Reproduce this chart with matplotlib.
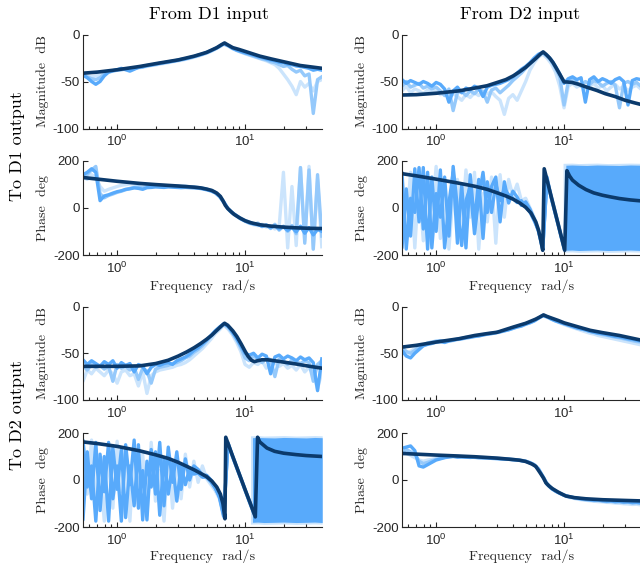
import matplotlib
matplotlib.use("Agg")
import matplotlib.pyplot as plt
from matplotlib.ticker import LogLocator, NullFormatter, FixedLocator

plt.rcParams['font.family'] = ['Liberation Sans', 'DejaVu Sans']
plt.rcParams['axes.unicode_minus'] = False

# ---------------- measured (noisy) frequency grid ----------------
freq_meas = [0.500, 0.540, 0.583, 0.630, 0.680, 0.734, 0.792, 0.856, 0.924, 0.998,
             1.077, 1.163, 1.256, 1.356, 1.464, 1.581, 1.707, 1.843, 1.991, 2.149,
             2.321, 2.506, 2.706, 2.922, 3.155, 3.407, 3.679, 3.972, 4.289, 4.631,
             5.000, 5.399, 5.830, 6.295, 6.797, 7.339, 7.925, 8.557, 9.240, 9.977,
             10.77, 11.63, 12.56, 13.56, 14.64, 15.81, 17.07, 18.43, 19.91, 21.49,
             23.21, 25.06, 27.06, 29.22, 31.55, 34.07, 36.79, 39.72]

# ---------------- D1 -> D1 ----------------
mag11_a = [-41, -43, -46, -50, -53, -50, -44, -40, -38.5, -37.5,
           -36, -37.5, -39, -37, -35, -34.5, -33, -32.5, -31.5, -30.5,
           -30, -29, -28.5, -27.5, -26.5, -25.8, -24.5, -23.5, -22, -20.8,
           -19, -17.2, -15, -12.5, -9.8, -11.5, -14.5, -16.5, -18, -19.5,
           -20.5, -22, -23.5, -24.5, -26, -27, -28, -29.5, -30, -31.5,
           -32, -33.5, -34, -35, -36, -38, -37, -38]
mag11_b = [-42, -44, -45, -47, -48, -46, -42, -40, -39, -38,
           -37.5, -36.5, -37, -36, -35, -34, -33.5, -32.5, -31.8, -31,
           -30, -29.5, -28.5, -27.8, -27, -25.8, -25, -23.5, -22.5, -21,
           -19.5, -17.5, -15.2, -12.8, -10, -11.8, -14.5, -16.8, -18.5, -20,
           -21.5, -23, -24.5, -26, -27, -29, -30, -32, -34, -33,
           -37, -40, -38, -44, -42, -84, -48, -45]
mag11_c = [-43, -42, -44, -45, -44, -43, -41, -39.5, -38.5, -38,
           -37.5, -37, -36.5, -36, -35.5, -34.8, -34, -33, -32.5, -31.5,
           -30.8, -30, -29, -28.3, -27.5, -26.5, -25.5, -24.2, -23, -21.5,
           -20, -18, -15.8, -13.3, -10.5, -12.3, -15, -17, -18.8, -20.5,
           -22, -23.5, -25, -26.5, -28, -30, -32, -36, -42, -48,
           -55, -64, -50, -56, -52, -60, -50, -48]
phase11_a = [130, 140, 150, 165, 150, 30, 50, 55, 62, 68,
             72, 78, 80, 84, 82, 78, 85, 86, 88, 87,
             86, 88, 87, 86, 85, 86, 85, 84, 83, 80,
             76, 71, 63, 48, 24, -4, -22, -34, -47, -56,
             -64, -68, -72, -78, -74, -84, -76, -90, -80, -96,
             -82, -102, -78, -108, -84, -115, -92, -100]
phase11_b = [118, 125, 140, 160, 175, 60, 42, 52, 58, 65,
             70, 76, 82, 86, 88, 84, 90, 92, 91, 93,
             92, 91, 93, 91, 90, 91, 89, 88, 86, 83,
             79, 74, 66, 50, 26, -3, -20, -33, -45, -54,
             -60, -70, -65, -80, -72, -88, -70, -95, -78, -100,
             -75, -110, 170, -150, 160, -175, 140, -120]
phase11_c = [110, 130, 120, 140, 130, 90, 70, 78, 84, 90,
             95, 98, 101, 100, 99, 98, 97, 96, 95, 95,
             94, 93, 93, 92, 91, 90, 89, 87, 85, 82,
             78, 72, 64, 47, 23, -6, -24, -36, -48, -58,
             -66, -72, -76, -70, -82, -76, -90, -80, 150, -170,
             90, -160, 170, -140, 175, -175, 120, -165]
freq_fit_mag11 = [0.5, 0.7, 1.0, 1.5, 2.0, 3.0, 4.0, 5.0, 6.0, 6.5, 6.9, 7.3, 8.0, 9.0, 10, 13, 16, 20, 27, 40]
mag11_fit = [-41.5, -40, -37.5, -34, -31, -27, -23, -19, -14, -11, -9, -11, -14, -16, -18, -23, -26, -29, -33, -36]
freq_fit_ph11 = [0.5, 1.0, 1.5, 2, 3, 4, 4.5, 5, 5.5, 6, 6.4, 6.7, 7.0, 7.3, 7.7, 8.2, 9, 10, 11, 13, 16, 20, 25, 32, 40]
phase11_fit = [130, 112, 103, 98, 92, 87, 84, 79, 73, 62, 48, 30, 10, -3, -15, -28, -42, -55, -63, -72, -78, -82, -85, -87, -88]

# ---------------- D2 -> D1 ----------------
mag12_a = [-50, -48, -52, -49, -51, -53, -50, -52, -55, -51,
           -53, -58, -72, -60, -56, -62, -57, -59, -55, -57,
           -66, -56, -54, -53, -52, -50, -48, -45, -41, -37,
           -34, -30, -25, -21, -19, -22, -27, -34, -42, -52,
           -47, -45, -48, -46, -72, -48, -45, -50, -47, -49,
           -52, -48, -46, -50, -75, -49, -47, -48]
mag12_b = [-53, -55, -50, -56, -54, -52, -57, -55, -58, -56,
           -60, -65, -58, -81, -62, -60, -65, -60, -63, -58,
           -61, -72, -59, -57, -62, -58, -54, -49, -45, -41,
           -36, -31, -27, -22, -19.5, -23, -28, -36, -45, -75,
           -50, -48, -51, -55, -50, -53, -49, -51, -55, -52,
           -50, -54, -78, -52, -50, -53, -51, -55]
mag12_c = [-57, -60, -55, -62, -58, -60, -63, -59, -62, -60,
           -64, -62, -68, -63, -66, -70, -64, -67, -62, -65,
           -60, -63, -61, -66, -70, -85, -68, -64, -70, -60,
           -50, -38, -30, -24, -21, -25, -31, -40, -55, -78,
           -55, -52, -56, -53, -58, -55, -52, -57, -54, -60,
           -56, -53, -58, -55, -60, -56, -54, -58]
phase12_a = [100, -170, 80, -120, 165, -60, 170, -175, 130, -100,
             160, -170, 20, 150, -150, 100, -170, 140, -60, 120,
             -130, 110, -20, 100, 30, 80, 55, 40, 22, 30,
             5, -18, -55, -95, -175, 118, 45, -25, -97, -168]
phase12_b = [-150, 60, -90, 150, -170, 120, -140, 90, -60, 175,
             -130, 80, -175, 60, 120, -90, 160, -40, 150, -175,
             60, -60, 130, -150, 140, -40, 120, 50, 100, 30,
             40, 0, -40, -90, -170, 125, 50, -20, -92, -165]
phase12_c = [-60, 150, -175, 40, -20, 170, -90, 150, -170, 60,
             -40, 130, -120, 175, 0, -160, 30, 90, -110, 40,
             150, -20, 90, 130, -60, 110, 20, 70, 45, 10,
             25, -5, -48, -100, -178, 130, 40, -30, -100, -172]
band12_freq = [10.3, 11.5, 13, 15, 18, 22, 27, 33, 40]
band12_hi = [180, 181, 180, 179, 181, 180, 179, 181, 180]
band12_lo = [-180, -179, -181, -180, -179, -181, -180, -179, -181]
band12_light_freq = [9.8, 11.5, 13, 15, 18, 22, 27, 33, 40]
band12_light_hi = [188, 189, 187, 188, 189, 187, 188, 189, 188]
band12_light_lo = [-188, -187, -189, -188, -187, -189, -188, -187, -188]
freq_fit_mag12 = [0.5, 0.7, 1.0, 1.5, 2.0, 2.5, 3.0, 3.5, 4.0, 4.5, 5.0, 5.5, 6.0, 6.5, 6.85, 7.2, 7.7,
                  8.2, 8.7, 9.3, 10.0, 10.5, 11.5, 13, 15, 18, 21, 25, 30, 35, 40]
mag12_fit = [-64.5, -64, -62.5, -60, -57, -54.5, -51, -48, -44, -39.5, -35, -30, -25.5, -21, -18.5, -21, -25,
             -30, -36, -43, -50.5, -50.5, -51, -53, -56, -59.5, -63, -66, -70, -72.5, -74.5]
freq_fit_ph12 = [0.5, 0.7, 1.0, 1.5, 2.0, 2.5, 3.0, 3.5, 4.0, 4.5, 5.0, 5.5, 6.0, 6.3, 6.55, 6.8, 6.98,
                 7.5, 8.0, 8.5, 9.0, 9.5, 10.1, 10.5, 11.0, 11.6, 13, 14.8, 17, 19.9, 23, 27, 33, 40]
phase12_fit = [147, 135, 121, 104, 91, 78, 63, 50, 36, 20, 2, -22, -60, -95, -135, -180, 165,
               98, 38, -19, -72, -123, -180, 157, 135, 117, 95, 77, 63, 53, 46, 39, 33, 29]

# ---------------- D1 -> D2 ----------------
mag21_a = [-60, -57, -62, -58, -61, -64, -59, -62, -58, -66,
           -60, -63, -61, -70, -62, -64, -72, -65, -62, -63,
           -61, -60, -62, -58, -56, -54, -51, -47, -44, -40,
           -36, -31, -26, -22, -18.5, -21, -27, -34, -42, -50,
           -52, -50, -55, -51, -53, -72, -54, -52, -56, -53,
           -55, -58, -54, -57, -55, -60, -90, -56]
mag21_b = [-66, -63, -68, -62, -65, -63, -67, -64, -80, -62,
           -66, -64, -68, -65, -78, -66, -69, -82, -67, -65,
           -64, -63, -61, -60, -58, -55, -53, -49, -46, -42,
           -37, -32, -27, -23, -19, -22, -28, -35, -44, -55,
           -58, -53, -56, -60, -55, -57, -75, -56, -58, -62,
           -57, -59, -61, -58, -60, -80, -62, -58]
mag21_c = [-70, -80, -68, -72, -66, -70, -74, -68, -72, -82,
           -70, -68, -74, -72, -85, -70, -93, -74, -70, -68,
           -67, -66, -65, -63, -62, -60, -57, -53, -49, -45,
           -40, -35, -29, -25, -20, -24, -30, -38, -48, -62,
           -65, -60, -62, -58, -66, -62, -60, -64, -61, -66,
           -63, -68, -62, -70, -65, -72, -88, -70]
phase21_a = [150, -170, 120, -80, 160, -130, 100, -175, 140, -40,
             130, -160, 60, -110, 150, -170, 80, -30, 120, -150,
             90, -60, 70, -90, 60, -20, 50, 25, 30, 12,
             12, -8, -35, -70, -150, 155, 106, 57, 9, -40,
             -89, -137]
phase21_b = [-160, 90, -60, 170, -110, 40, -175, 120, -120, 165,
             -50, 100, -175, 140, -60, 110, -150, 160, -90, 40,
             -175, 130, -120, 90, -80, 110, -30, 80, -10, 60,
             5, -20, -45, -80, -160, 160, 100, 52, 5, -45,
             -95, -140]
phase21_c = [-100, 170, -30, 60, -175, 110, -50, 160, -80, 60,
             -175, 150, -20, 170, -120, 40, -170, 130, -60, 160,
             -110, 140, -10, 120, -40, 90, 0, 60, 45, 20,
             20, 0, -30, -75, -155, 158, 104, 55, 7, -42,
             -90, -138]
band21_freq = [11.4, 12.5, 14, 17, 20, 25, 30, 35, 40]
band21_hi = [180, 181, 180, 179, 181, 180, 179, 181, 180]
band21_lo = [-180, -179, -181, -180, -179, -181, -180, -179, -181]
band21_light_freq = [11.0, 12.5, 14, 17, 20, 25, 30, 35, 40]
band21_light_hi = [188, 189, 187, 188, 189, 187, 188, 189, 188]
band21_light_lo = [-188, -187, -189, -188, -187, -189, -188, -187, -188]
freq_fit_mag21 = [0.5, 0.7, 1.0, 1.5, 2.0, 2.5, 3.0, 3.5, 4.0, 4.5, 5.0, 5.5, 6.0, 6.5, 6.9, 7.3, 8.0,
                  8.6, 9.3, 10.0, 10.5, 11.2, 11.8, 12.5, 13.5, 15, 19, 25, 32, 40]
mag21_fit = [-64, -64, -64, -63.5, -61, -57.5, -53, -48.5, -44, -39.5, -35, -30.5, -25.5, -21, -17.9, -20, -26,
             -32, -40, -48, -53, -57.5, -59, -58, -57, -57, -59, -61.5, -64, -66]
freq_fit_ph21 = [0.5, 0.7, 1.0, 1.5, 2.0, 2.5, 3.0, 3.5, 4.0, 4.5, 5.0, 5.5, 6.0, 6.4, 6.7, 6.95, 7.05,
                 8.0, 9.0, 10.0, 11.0, 12.0, 12.5, 13.0, 14.8, 17, 20, 25, 30, 40]
phase21_fit = [164, 155, 143, 124, 107, 92, 75, 58, 43, 28, 14, -5, -30, -60, -100, -165, 182,
               100, 25, -42, -101, -157, 182, 162, 136, 122, 114, 108, 104, 100]

# ---------------- D2 -> D2 ----------------
mag22_a = [-43, -47, -53, -55, -50, -46, -42, -40.5, -39.5, -38,
           -37.5, -38.5, -37, -36, -35, -34.5, -33.5, -33, -32, -31.5,
           -30.5, -29.5, -29, -28, -27, -26, -25, -23.5, -22, -21,
           -19, -17.5, -15.5, -12.5, -9.5, -11, -13.5, -15.5, -17, -18.5,
           -20, -21.5, -23, -24, -25, -26.5, -27.5, -28.5, -29, -30,
           -31, -32, -32.5, -33.5, -34.5, -35, -36, -37]
mag22_b = [-45, -44, -48, -50, -47, -43, -41, -39, -38, -37,
           -36.5, -37, -36.5, -35.5, -35, -34, -33, -32.5, -31.5, -31,
           -30, -29.2, -28.6, -28, -27, -25.8, -24.3, -22.8, -21.3, -19.8,
           -18.3, -16.8, -15, -12.3, -9.8, -11, -12.8, -14.6, -16.3, -18,
           -19.5, -21, -22.5, -24, -25, -26.5, -27.8, -29, -30, -30.8,
           -31.8, -32.8, -33.5, -34.5, -35.5, -36.5, -37.5, -38]
mag22_c = [-46, -49, -51, -48, -45, -43, -42, -40, -39.5, -38.5,
           -38, -37.5, -37, -36.5, -35.5, -34.8, -34, -33, -32.3, -31.5,
           -30.5, -29.8, -29, -28.5, -27.5, -26.3, -24.8, -23.3, -21.8, -20.3,
           -18.8, -17.3, -15.5, -12.8, -10.2, -11.5, -13.5, -15.5, -17.5, -19.3,
           -21, -22.5, -24, -25.5, -27, -28.5, -29.5, -31, -32, -33,
           -34, -35, -36, -37, -38, -39, -40, -41]
phase22_a = [120, 135, 140, 145, 125, 60, 55, 65, 75, 85,
             90, 95, 98, 100, 97, 98, 97, 96, 97, 95,
             94, 94, 92, 91, 90, 89, 88, 86, 85, 82,
             79, 73, 64, 46, 15, -18, -36, -48, -57, -65,
             -70, -74, -77, -80, -82, -84, -86, -85, -88, -90,
             -89, -92, -91, -94, -93, -96, -95, -97]
phase22_b = [105, 115, 130, 120, 110, 80, 70, 75, 82, 88,
             92, 96, 99, 101, 100, 99, 98, 97, 96, 95,
             95, 94, 93, 92, 91, 90, 89, 87, 86, 83,
             80, 74, 65, 47, 16, -16, -34, -46, -56, -64,
             -70, -74, -78, -81, -84, -85, -88, -87, -90, -92,
             -91, -94, -93, -96, -95, -98, -97, -100]
phase22_c = [100, 110, 115, 105, 95, 85, 80, 85, 88, 92,
             96, 98, 100, 102, 101, 100, 99, 98, 97, 96,
             96, 95, 94, 93, 92, 91, 90, 88, 86, 84,
             81, 75, 66, 49, 18, -14, -33, -46, -57, -66,
             -73, -77, -81, -84, -86, -88, -90, -92, -93, -95,
             -96, -98, -99, -101, -102, -104, -103, -106]
freq_fit_mag22 = [0.5, 0.7, 1.0, 1.5, 2.0, 2.5, 3.0, 4.0, 5.0, 6.0, 6.5, 6.9, 7.3, 8.0, 9.0, 10.0, 13, 16, 20, 27, 40]
mag22_fit = [-44, -41.5, -38, -34.5, -31, -29, -27.5, -22, -18, -13.5, -11, -9, -10.5, -12.5, -15, -17.5, -22, -25.5, -28, -31, -36]
freq_fit_ph22 = [0.5, 0.7, 1.0, 1.5, 2.0, 3.0, 4.0, 4.5, 5.0, 5.6, 6.0, 6.5, 6.9, 7.2, 7.6, 8.1, 9.0, 10.3, 12, 14.8, 20, 30, 40]
phase22_fit = [114, 110, 106, 102, 99, 93, 87, 84, 79, 68, 58, 30, 8, -12, -25, -37, -52, -68, -75, -80, -84, -87, -89]

col_titles = ['From D1 input', 'From D2 input']
row_titles = ['To D1 output', 'To D2 output']
mag_ticks = [-100, -50, 0]
phase_ticks = [-200, 0, 200]

# ---------------- styling ----------------
C_SAT = '#58aafb'
C_MED = '#95c9fb'
C_LIGHT = '#cbe4fc'
C_FIT = '#0b3a6c'
AX_COL = '#262626'
SERIF = 'cmr10'
LW_NOISE = 2.4
LW_FIT = 2.6

W, H = 640.0, 571.0
fig = plt.figure(figsize=(6.4, 5.71), dpi=100)
lefts = [83.0, 402.0]
width = 238.5
rows = [(34.5, 128.5), (160.5, 255.0), (306.5, 400.0), (433.0, 527.0)]


def make_ax(col, row):
    top, bot = rows[row]
    ax = fig.add_axes([lefts[col] / W, 1 - bot / H, width / W, (bot - top) / H])
    ax.set_xscale('log')
    ax.set_xlim(0.54, 39.5)
    for s in ['top', 'right']:
        ax.spines[s].set_visible(False)
    for s in ['left', 'bottom']:
        ax.spines[s].set_color(AX_COL)
        ax.spines[s].set_linewidth(0.8)
    ax.xaxis.set_major_locator(LogLocator(base=10))
    ax.xaxis.set_minor_locator(LogLocator(base=10, subs=[2, 3, 4, 5, 6, 7, 8, 9]))
    ax.xaxis.set_minor_formatter(NullFormatter())
    ax.tick_params(which='both', direction='in', colors=AX_COL, labelsize=9.5, width=0.8)
    ax.tick_params(which='major', length=3.5)
    ax.tick_params(which='minor', length=2.2)
    ax.tick_params(axis='y', pad=2.5)
    ax.tick_params(axis='x', pad=4)
    return ax


def mag_panel(col, row, traces, ffit, vfit):
    ax = make_ax(col, row)
    for vals, c in traces:
        ax.plot(freq_meas, vals, color=c, lw=LW_NOISE)
    ax.plot(ffit, vfit, color=C_FIT, lw=LW_FIT)
    ax.set_ylim(-100, 0)
    ax.yaxis.set_major_locator(FixedLocator(mag_ticks))
    ax.set_ylabel('Magnitude  dB', fontfamily=SERIF, fontsize=10, color='#262626')
    ax.yaxis.set_label_coords(-0.143, 0.5)
    return ax


def phase_panel(col, row, traces, ffit, vfit, bands=(), label_y=-0.25):
    ax = make_ax(col, row)
    for bf, bl, bh, c in bands:
        ax.fill_between(bf, bl, bh, color=c, lw=0)
    for vals, c in traces:
        ax.plot(freq_meas[:len(vals)], vals, color=c, lw=LW_NOISE)
    ax.plot(ffit, vfit, color=C_FIT, lw=LW_FIT)
    ax.set_ylim(-200, 200)
    ax.yaxis.set_major_locator(FixedLocator(phase_ticks))
    ax.set_ylabel('Phase  deg', fontfamily=SERIF, fontsize=10, color='#262626')
    ax.yaxis.set_label_coords(-0.143, 0.5)
    ax.set_xlabel('Frequency  rad/s', fontfamily=SERIF, fontsize=10, color='#262626')
    ax.xaxis.set_label_coords(0.5, label_y)
    return ax


mag_panel(0, 0, [(mag11_c, C_LIGHT), (mag11_b, C_MED), (mag11_a, C_SAT)], freq_fit_mag11, mag11_fit)
phase_panel(0, 1, [(phase11_c, C_LIGHT), (phase11_b, C_MED), (phase11_a, C_SAT)], freq_fit_ph11, phase11_fit,
            label_y=-0.255)
mag_panel(1, 0, [(mag12_c, C_LIGHT), (mag12_b, C_MED), (mag12_a, C_SAT)], freq_fit_mag12, mag12_fit)
phase_panel(1, 1, [(phase12_b, C_LIGHT), (phase12_c, C_SAT), (phase12_a, C_SAT)], freq_fit_ph12, phase12_fit,
            bands=[(band12_light_freq, band12_light_lo, band12_light_hi, C_LIGHT),
                   (band12_freq, band12_lo, band12_hi, C_SAT)], label_y=-0.255)
mag_panel(0, 2, [(mag21_c, C_LIGHT), (mag21_b, C_MED), (mag21_a, C_SAT)], freq_fit_mag21, mag21_fit)
phase_panel(0, 3, [(phase21_b, C_LIGHT), (phase21_c, C_SAT), (phase21_a, C_SAT)], freq_fit_ph21, phase21_fit,
            bands=[(band21_light_freq, band21_light_lo, band21_light_hi, C_LIGHT),
                   (band21_freq, band21_lo, band21_hi, C_SAT)], label_y=-0.235)
mag_panel(1, 2, [(mag22_c, C_LIGHT), (mag22_b, C_MED), (mag22_a, C_SAT)], freq_fit_mag22, mag22_fit)
phase_panel(1, 3, [(phase22_c, C_LIGHT), (phase22_b, C_MED), (phase22_a, C_SAT)], freq_fit_ph22, phase22_fit,
            label_y=-0.235)

fig.text(209 / W, 1 - 14 / H, col_titles[0], fontfamily=SERIF, fontsize=13, ha='center', va='center')
fig.text(520 / W, 1 - 14 / H, col_titles[1], fontfamily=SERIF, fontsize=13, ha='center', va='center')
fig.text(17 / W, 1 - 146 / H, row_titles[0], fontfamily=SERIF, fontsize=13, ha='center', va='center', rotation=90)
fig.text(17 / W, 1 - 415 / H, row_titles[1], fontfamily=SERIF, fontsize=13, ha='center', va='center', rotation=90)

fig.savefig('out.png', dpi=100)
